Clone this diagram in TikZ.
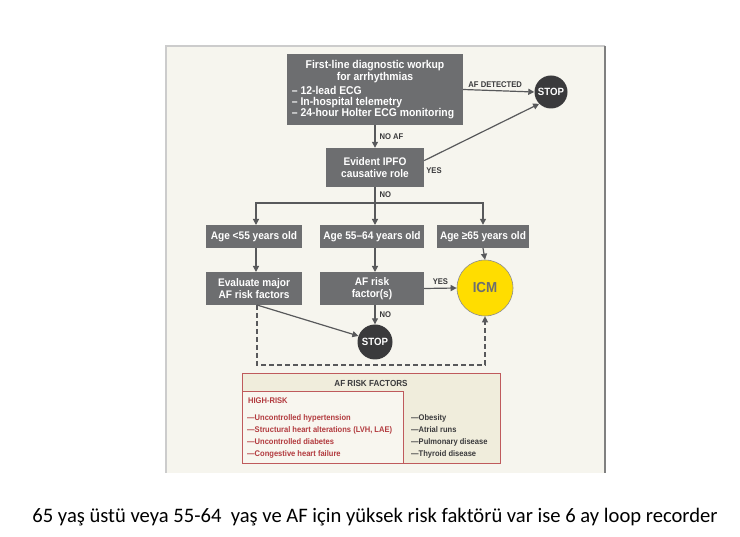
\documentclass[tikz,border=0pt]{standalone}
\usepackage{fontspec}
\setmainfont{Liberation Sans}
\newfontfamily\cond{Liberation Sans}[FakeStretch=0.92]
\newfontfamily\capfont{Carlito}
\usetikzlibrary{arrows.meta,calc}
\definecolor{boxgrey}{HTML}{6D6E70}
\definecolor{linegrey}{HTML}{58595B}
\definecolor{stopgrey}{HTML}{3A3A3C}
\definecolor{panel}{HTML}{F6F5EE}
\definecolor{icmy}{HTML}{FFDD00}
\definecolor{riskred}{HTML}{B23A3E}
\definecolor{riskborder}{HTML}{BF5A5C}
\definecolor{riskbg}{HTML}{F0EDDC}
\definecolor{riskbg2}{HTML}{F8F6EF}
\tikzset{
  box/.style={fill=boxgrey, text=white, font=\cond\bfseries\fontsize{11}{12}\selectfont, inner sep=0pt, align=center},
  arr/.style={draw=linegrey, line width=1.2pt, -{Triangle[length=6pt,width=6pt]}},
  plain/.style={draw=linegrey, line width=1.2pt},
  lbl/.style={font=\cond\bfseries\fontsize{8.3}{9}\selectfont, text=stopgrey, inner sep=1pt},
  stopc/.style={circle, fill=stopgrey, text=white, font=\cond\bfseries\fontsize{10.5}{12}\selectfont, minimum size=33pt, inner sep=0pt},
  riskitem/.style={font=\cond\bfseries\fontsize{8.2}{9}\selectfont, anchor=west, inner sep=0pt}
}
\begin{document}
\begin{tikzpicture}[x=1pt,y=-1pt]
\useasboundingbox (0,0) rectangle (740,537);
% panel
\fill[panel] (166,46) rectangle (605,473);
\draw[draw=black!20, line width=1.2pt] (166,473) -- (166,46) -- (605,46);
\draw[draw=black!50, line width=1.2pt] (605,46) -- (605,473);

% top box
\node[box, minimum width=176pt, minimum height=71pt, font=\cond\bfseries\fontsize{11.3}{12}\selectfont] (top) at (375,89.5)
 {\parbox{170pt}{\centering\baselineskip=11.5pt First-line diagnostic workup\\for arrhythmias\par\vspace{3.5pt}\raggedright\baselineskip=10.8pt
 \,– 12-lead ECG\\\,– In-hospital telemetry\\\,– 24-hour Holter ECG monitoring}};
\node[stopc] (stop1) at (551,92) {STOP};
\node[box, minimum width=98pt, minimum height=39pt] (ipfo) at (375,167.5) {Evident IPFO\\causative role};

\draw[arr] (top.east) -- node[lbl, above=1pt, pos=0.45] (lafd) {AF DETECTED} (stop1.west);
\draw[arr] (top.south) -- node[lbl, right=3pt] (lnoaf) {NO AF} (ipfo.north);
\draw[arr] (ipfo.8) -- (stop1.225);
\node[lbl, anchor=north west] (lyes1) at ($(ipfo.east)+(1,-1)$) {YES};

% branch
\coordinate (br) at (375,203);
\draw[plain] (ipfo.south) -- node[lbl, right=3pt] (lno1) {NO} (br);

\node[box, minimum width=96pt, minimum height=23pt] (age1) at (254,236.5) {Age <55 years old};
\node[box, minimum width=104pt, minimum height=23pt] (age2) at (372,236.5) {Age 55–64 years old};
\node[box, minimum width=92pt, minimum height=23pt] (age3) at (483,236.5) {Age ≥65 years old};

\coordinate (c1) at (256,225);
\coordinate (c2) at (375,225);
\draw[arr] (br) -- (c2);
\draw[arr] (br) -| (c1);
\draw[arr] (br) -| (age3.north);

\node[box, minimum width=96pt, minimum height=33pt] (eval) at (254,288.5) {Evaluate major\\AF risk factors};
\node[box, minimum width=104pt, minimum height=33pt] (afr) at (372,288.5) {AF risk\\factor(s)};
\node[circle, fill=icmy, draw=black!45, line width=0.6pt, minimum size=56pt, inner sep=0pt,
      text=boxgrey, font=\cond\bfseries\fontsize{14.5}{16}\selectfont] (icm) at (485,288) {ICM};
\node[stopc, minimum size=35pt] (stop2) at (375,342) {STOP};

\coordinate (e1) at (256,248);
\coordinate (e1b) at (256,272);
\coordinate (e2) at (375,248);
\coordinate (e2b) at (375,272);
\draw[arr] (e1) -- (e1b);
\draw[arr] (e2) -- (e2b);
\draw[arr] (age3.south) -- (icm.north);

\draw[arr] (afr.east) -- node[lbl, above=2pt] (lyes2) {YES} (icm.west);
\coordinate (f2) at (375,305);
\draw[arr] (f2) -- node[lbl, right=3pt] (lno2) {NO} (stop2.north);
\coordinate (f1) at (257,305);
\draw[arr] (f1) -- (stop2.160);
\coordinate (d1) at (257,365);
\coordinate (d2) at (485,365);
\draw[arr, dashed, dash pattern=on 5pt off 3pt, line width=1.1pt] (f1) -- (d1) -- (d2) -- (icm.south);

% risk factor box
\fill[riskbg] (242,374) rectangle (500,464);
\fill[riskbg2] (242,392) rectangle (403,464);
\draw[riskborder, line width=1pt] (242,374) rectangle (500,464);
\draw[riskborder, line width=1pt] (242,392) -- (403,392) -- (403,464);
\node[font=\cond\bfseries\fontsize{8.8}{10}\selectfont, text=stopgrey] (rfh) at (371,383) {AF RISK FACTORS};
\node[riskitem, text=riskred] (hr) at (248,401) {HIGH-RISK};
\node[riskitem, text=riskred] (r1) at (247,418) {—Uncontrolled hypertension};
\node[riskitem, text=riskred] (r2) at (247,430) {—Structural heart alterations (LVH, LAE)};
\node[riskitem, text=riskred] (r3) at (247,442) {—Uncontrolled diabetes};
\node[riskitem, text=riskred] (r4) at (247,454) {—Congestive heart failure};
\node[riskitem, text=stopgrey] (o1) at (411,418) {—Obesity};
\node[riskitem, text=stopgrey] (o2) at (411,430) {—Atrial runs};
\node[riskitem, text=stopgrey] (o3) at (411,442) {—Pulmonary disease};
\node[riskitem, text=stopgrey] (o4) at (411,454) {—Thyroid disease};

% caption
\node[font=\capfont\fontsize{20.6}{24}\selectfont, text=black] (cap) at (375,517)
 {65 yaş üstü veya 55-64\ \ yaş ve AF için yüksek risk faktörü var ise 6 ay loop recorder};
\end{tikzpicture}
\end{document}
